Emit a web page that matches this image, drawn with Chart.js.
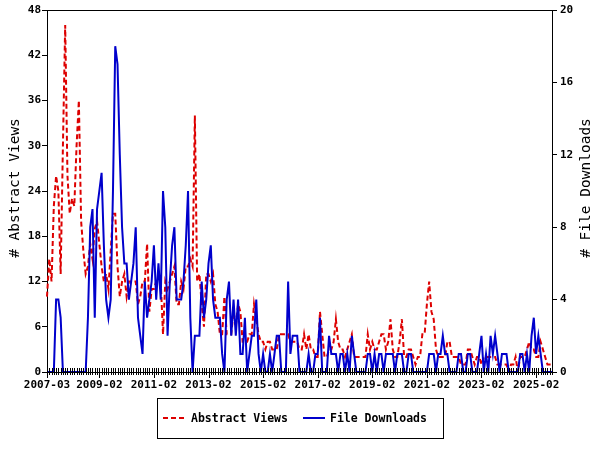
<!DOCTYPE html>
<html><head><meta charset="utf-8">
<script src="https://cdn.jsdelivr.net/npm/chart.js@4/dist/chart.umd.min.js"></script>
<style>html,body{margin:0;padding:0;background:#fff}#c{display:block}</style>
</head><body>
<canvas id="c" width="600" height="450"></canvas>
<script>
// Categories: monthly from 2007-03 to 2025-09
const firstYear = 2007, firstMonth = 3, lastYear = 2025, lastMonth = 9;
const months = [];
for (let y = firstYear, m = firstMonth; y < lastYear || (y === lastYear && m <= lastMonth); ) {
  months.push(y + '-' + String(m).padStart(2, '0'));
  m++; if (m > 12) { m = 1; y++; }
}
const majorTicks = ['2007-03','2009-02','2011-02','2013-02','2015-02','2017-02','2019-02','2021-02','2023-02','2025-02'];

const abstractViews = [
 10,15,12,22,26,24,13,30,46,26,
 21,23,22,30,36,20,16,13,14,17,
 15,19,20,17,14,12,13,11,16,21,
 21,14,10,12,13,10,12,12,12,12,
 9,10,12,12,17,8,11,11,12,12,
 12,5,12,11,12,13,14,9,9,12,
 11,14,14,15,14,34,12,13,9,6,
 13,13,12,13,9,8,5,5,10,5,
 5,5,8,6,9,8,4,4,4,5,
 5,9,7,5,4,4,3,4,4,3,
 3,3,5,5,5,5,5,4,4,4,
 4,3,3,5,3,5,3,3,2,2,
 8,5,2,2,3,3,4,7,4,3,
 3,2,3,4,5,2,2,2,2,2,
 2,5,3,4,3,3,4,5,5,3,
 4,7,3,2,2,4,7,2,2,3,
 3,2,1,2,2,5,5,9,12,8,
 7,3,2,2,2,2,4,4,2,2,
 2,2,1,1,1,3,3,2,1,2,
 2,1,2,2,2,2,2,2,1,1,
 1,1,1,0,1,1,2,0,2,2,
 2,3,4,3,3,2,2,4,3,2,
 1,1,1
];
const fileDownloads = [
 0,0,0,0,4,4,3,0,0,0,
 0,0,0,0,0,0,0,0,3,8,
 9,3,9,10,11,7,4,3,4,10,
 18,17,12,8,6,6,4,5,6,8,
 3,2,1,5,3,4,5,7,4,6,
 4,10,8,2,5,7,8,4,4,4,
 5,7,10,3,0,2,2,2,5,3,
 4,6,7,4,3,3,3,1,0,4,
 5,2,4,2,4,1,1,3,0,1,
 2,2,4,1,0,1,0,0,1,0,
 1,2,2,0,0,0,5,1,2,2,
 2,0,0,0,0,1,0,0,1,1,
 3,0,0,0,2,1,1,1,0,1,
 1,0,1,0,2,1,0,0,0,0,
 0,1,1,0,1,0,1,1,0,1,
 1,1,1,0,1,1,1,0,0,1,
 1,0,0,0,0,0,0,0,1,1,
 1,0,1,1,2,1,1,0,0,0,
 0,1,1,0,0,1,1,0,0,0,
 1,2,0,1,0,2,1,2,1,0,
 1,1,1,0,0,0,0,0,1,1,
 0,1,0,2,3,1,2,1,0,0,
 0,0,0
];

const RED = '#dd0000', BLUE = '#0000cc';
const MONO = '"DejaVu Sans Mono", "Liberation Mono", monospace';

const framePlugin = {
  id: 'frame',
  afterDraw(chart) {
    const { ctx, chartArea: a, scales } = chart;
    const x = scales.x;
    ctx.save();
    ctx.strokeStyle = '#000';
    ctx.lineWidth = 1;
    // top border
    ctx.beginPath();
    ctx.moveTo(a.left, Math.round(a.top) + 0.5);
    ctx.lineTo(a.right, Math.round(a.top) + 0.5);
    ctx.stroke();
    // x ticks (monthly minor, labelled major)
    ctx.beginPath();
    months.forEach((m, i) => {
      const px = Math.round(x.getPixelForValue(i)) + 0.5;
      const major = majorTicks.includes(m);
      ctx.moveTo(px, a.bottom - 4);
      ctx.lineTo(px, a.bottom + (major ? 6 : 3));
    });
    ctx.stroke();
    // axis titles
    ctx.fillStyle = '#000';
    ctx.font = '14.5px ' + MONO;
    ctx.textAlign = 'center';
    ctx.textBaseline = 'middle';
    const cy = (a.top + a.bottom) / 2 - 3;
    ctx.save(); ctx.translate(15, cy); ctx.rotate(-Math.PI / 2);
    ctx.fillText('# Abstract Views', 0, 0); ctx.restore();
    ctx.save(); ctx.translate(586, cy); ctx.rotate(-Math.PI / 2);
    ctx.fillText('# File Downloads', 0, 0); ctx.restore();
    // legend
    const ds = chart.data.datasets;
    ctx.strokeStyle = '#000'; ctx.lineWidth = 1;
    ctx.strokeRect(157.5, 398.5, 286, 40);
    const ly = 418;
    ctx.lineWidth = 2;
    ctx.strokeStyle = ds[0].borderColor; ctx.setLineDash([5, 3]);
    ctx.beginPath(); ctx.moveTo(163, ly); ctx.lineTo(184, ly); ctx.stroke();
    ctx.setLineDash([]);
    ctx.strokeStyle = ds[1].borderColor;
    ctx.beginPath(); ctx.moveTo(303, ly); ctx.lineTo(325, ly); ctx.stroke();
    ctx.font = 'bold 11.5px ' + MONO;
    ctx.textAlign = 'left';
    ctx.fillStyle = '#000';
    ctx.fillText(ds[0].label, 191, ly + 1);
    ctx.fillText(ds[1].label, 330, ly + 1);
    ctx.restore();
  }
};

const tickFont = { family: MONO, size: 11, weight: 'bold' };

new Chart(document.getElementById('c'), {
  type: 'line',
  data: {
    labels: months,
    datasets: [
      { label: 'Abstract Views', data: abstractViews, yAxisID: 'y', borderColor: RED, backgroundColor: RED,
        borderWidth: 2, borderDash: [5, 3], pointRadius: 0, tension: 0, fill: false, order: 2 },
      { label: 'File Downloads', data: fileDownloads, yAxisID: 'y1', borderColor: BLUE, backgroundColor: BLUE,
        borderWidth: 2, pointRadius: 0, tension: 0, fill: false, order: 1 }
    ]
  },
  options: {
    responsive: false, animation: false, devicePixelRatio: 1,
    layout: { padding: { left: 0, right: 0, top: 10, bottom: 50 } },
    plugins: { legend: { display: false }, tooltip: { enabled: false } },
    scales: {
      x: {
        type: 'category', offset: false,
        grid: { display: true, drawOnChartArea: false, drawTicks: false },
        border: { display: true, color: '#000', width: 1 },
        ticks: { autoSkip: false, maxRotation: 0, minRotation: 0, padding: 7, color: '#000', font: tickFont,
          callback: function (v, i) { const l = months[i]; return majorTicks.includes(l) ? l : ''; } },
        afterFit(s) { s.height = 28; }
      },
      y: {
        position: 'left', min: 0, max: 48,
        ticks: { stepSize: 6, padding: 1, color: '#000', font: tickFont },
        grid: { drawOnChartArea: false, drawTicks: true, tickLength: 5, color: '#000' },
        border: { display: true, color: '#000', width: 1 },
        afterFit(s) { s.width = 47; }
      },
      y1: {
        position: 'right', min: 0, max: 20,
        ticks: { stepSize: 4, padding: 3, color: '#000', font: tickFont },
        grid: { drawOnChartArea: false, drawTicks: true, tickLength: 5, color: '#000' },
        border: { display: true, color: '#000', width: 1 },
        afterFit(s) { s.width = 48; }
      }
    }
  },
  plugins: [framePlugin]
});
</script>
</body></html>
